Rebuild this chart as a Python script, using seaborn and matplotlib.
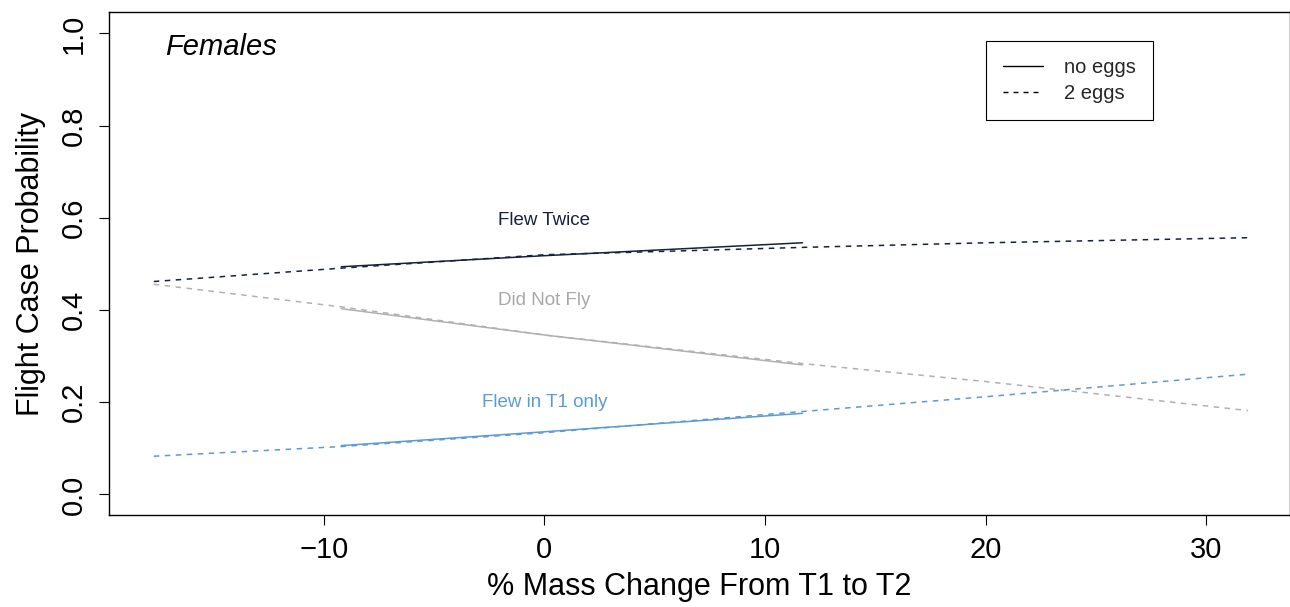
import numpy as np
import pandas as pd
import matplotlib
matplotlib.use("Agg")
import matplotlib.pyplot as plt
from matplotlib.lines import Line2D
import seaborn as sns

# ---- data ----
outcomes = ["Flew Twice", "Did Not Fly", "Flew in T1 only"]
mass_no_eggs = [-9.2, 0.0, 11.7]
mass_2_eggs = [-17.7, -9.2, 0.0, 11.7, 20.0, 31.9]
prob_no_eggs = {
    "Flew Twice":      [0.494, 0.518, 0.546],
    "Did Not Fly":     [0.403, 0.346, 0.281],
    "Flew in T1 only": [0.106, 0.136, 0.176],
}
prob_2_eggs = {
    "Flew Twice":      [0.462, 0.491, 0.520, 0.536, 0.546, 0.557],
    "Did Not Fly":     [0.456, 0.407, 0.346, 0.284, 0.245, 0.182],
    "Flew in T1 only": [0.083, 0.104, 0.134, 0.180, 0.212, 0.261],
}
egg_labels = ["no eggs", "2 eggs"]
x_ticks = [-10, 0, 10, 20, 30]
y_ticks = [0.0, 0.2, 0.4, 0.6, 0.8, 1.0]
label_pos = {"Flew Twice": 0.595, "Did Not Fly": 0.42, "Flew in T1 only": 0.20}

colors = {"Flew Twice": "#16213e", "Did Not Fly": "#b0b0b0", "Flew in T1 only": "#5b9bd5"}

rows = []
for o in outcomes:
    for m, p in zip(mass_no_eggs, prob_no_eggs[o]):
        rows.append({"mass": m, "prob": p, "outcome": o, "eggs": "no eggs"})
    for m, p in zip(mass_2_eggs, prob_2_eggs[o]):
        rows.append({"mass": m, "prob": p, "outcome": o, "eggs": "2 eggs"})
df = pd.DataFrame(rows)

sns.set_theme(style="white")
plt.rcParams["font.family"] = ["Liberation Sans", "DejaVu Sans"]

fig = plt.figure(figsize=(12.9, 6.07), dpi=100)
ax = fig.add_axes([109 / 1290, 1 - 515 / 607, 1181 / 1290, 503 / 607])

sns.lineplot(data=df, x="mass", y="prob", hue="outcome", style="eggs",
             hue_order=outcomes, style_order=egg_labels, palette=colors,
             dashes={"no eggs": "", "2 eggs": (3.6, 3.6)}, linewidth=1.1,
             estimator=None, sort=True, legend=False, ax=ax)

ax.set_xlim(-19.73, 33.8)
ax.set_ylim(-0.0445, 1.0466)
ax.set_xticks(x_ticks)
ax.set_xticklabels(["\u221210", "0", "10", "20", "30"])
ax.set_yticks(y_ticks)
ax.set_yticklabels([f"{v:.1f}" for v in y_ticks], rotation=90, va="center")
ax.tick_params(axis="both", direction="out", length=7, width=0.8, color="black",
               labelsize=21, labelcolor="black", bottom=True, left=True)
ax.tick_params(axis="x", pad=8)
ax.tick_params(axis="y", pad=8)
for s in ax.spines.values():
    s.set_visible(True)
    s.set_color("black")
    s.set_linewidth(1.0)

ax.set_xlabel("% Mass Change From T1 to T2", fontsize=22, labelpad=6, color="black")
ax.set_ylabel("Flight Case Probability", fontsize=22, labelpad=10, color="black")

for o in outcomes:
    ax.text(0.0, label_pos[o], o, color=colors[o] if o != "Did Not Fly" else "#a8a8a8",
            fontsize=13.5, ha="center", va="center")

ax.text(-17.2, 0.971, "Females", fontsize=21, style="italic", ha="left", va="center",
        color="black")

handles = [Line2D([], [], color="black", lw=1.0, linestyle="-"),
           Line2D([], [], color="black", lw=1.0, dashes=(3.6, 3.6))]
leg = ax.legend(handles, egg_labels, loc="upper left",
                bbox_to_anchor=((986 - 109) / 1181, 1 - (41 - 12) / 503),
                fontsize=14.5, frameon=True, fancybox=False, handlelength=2.0,
                handletextpad=1.0, borderpad=0.85, labelspacing=0.35,
                borderaxespad=0.0)
leg.get_frame().set_edgecolor("black")
leg.get_frame().set_linewidth(0.8)
leg.get_frame().set_alpha(1)

fig.savefig("out.png", dpi=100)
